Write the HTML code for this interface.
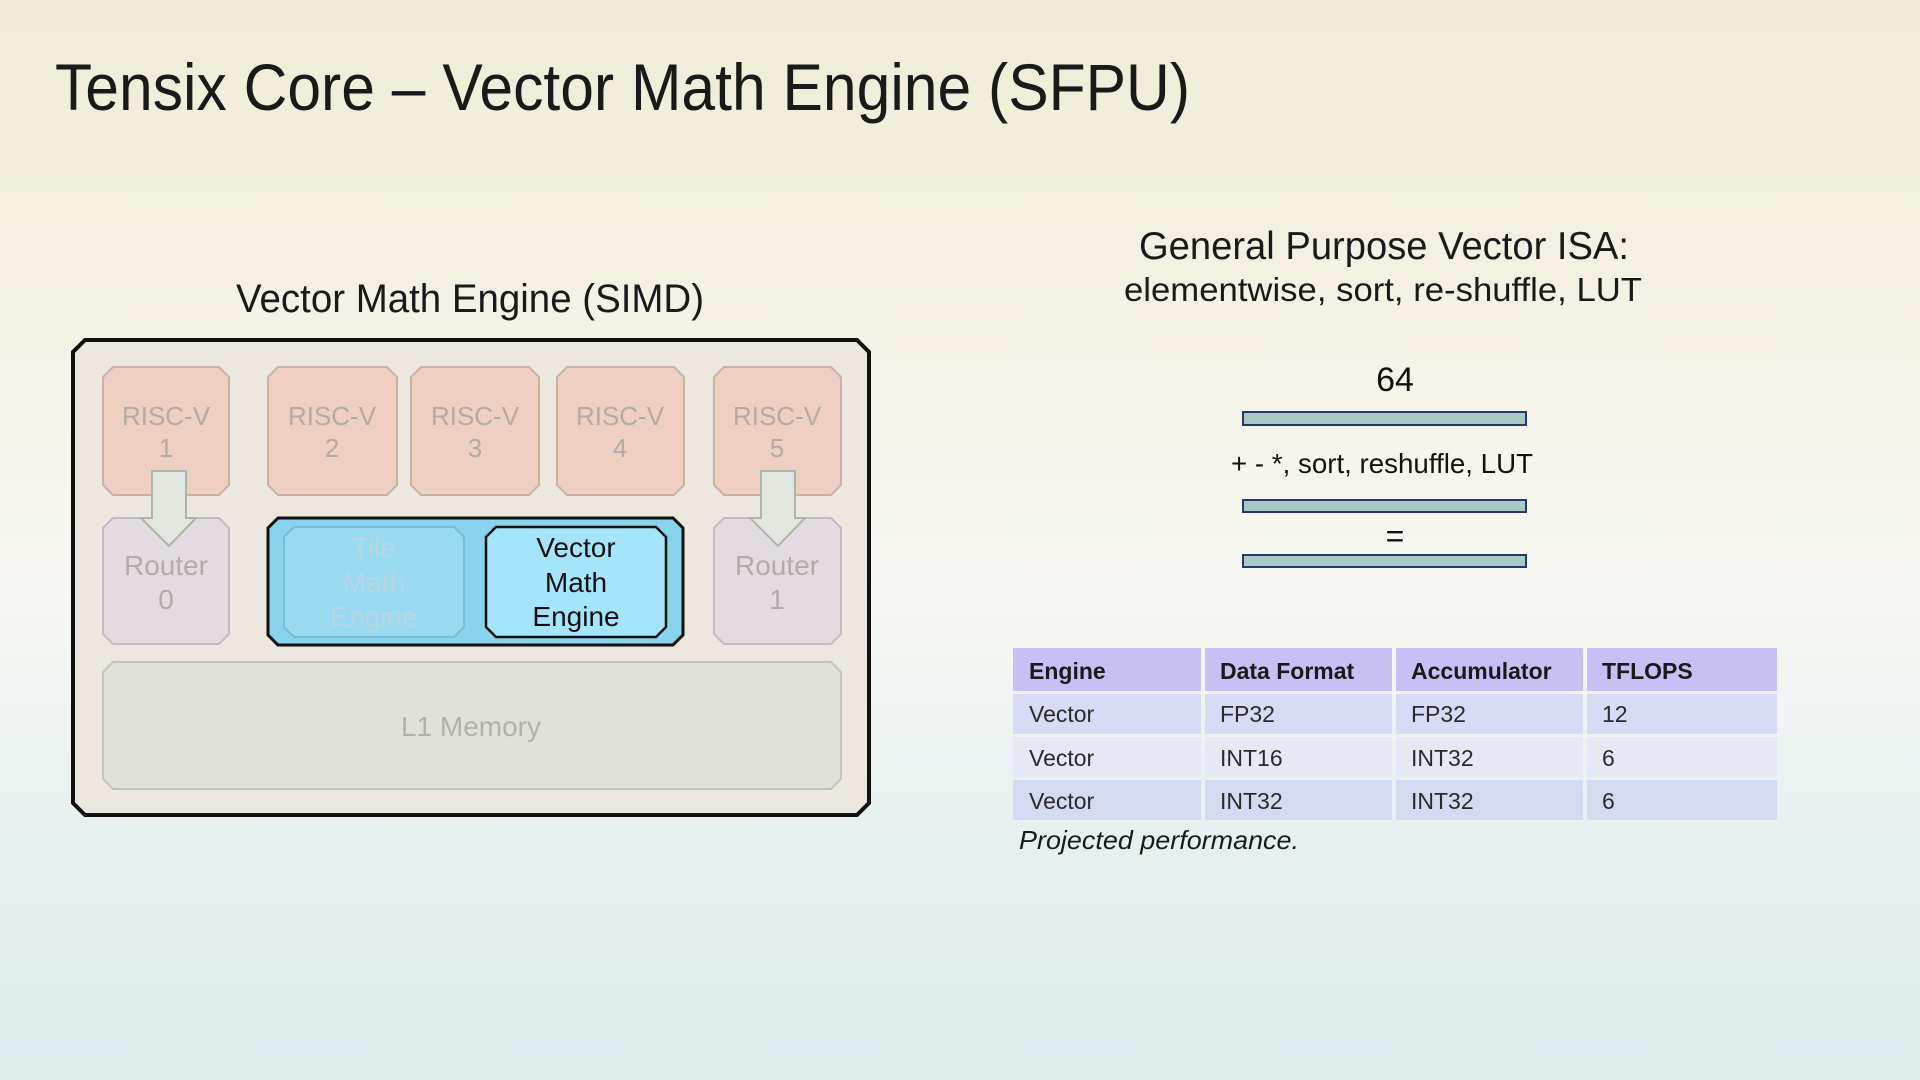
<!DOCTYPE html>
<html><head><meta charset="utf-8"><style>
html,body{margin:0;padding:0;width:1920px;height:1080px;overflow:hidden}
svg{display:block;font-family:"Liberation Sans",Arial,sans-serif}
</style></head><body>
<svg width="1920" height="1080" viewBox="0 0 1920 1080" xmlns="http://www.w3.org/2000/svg">
<defs>
<linearGradient id="bg" x1="0" y1="0" x2="0" y2="1">
<stop offset="0" stop-color="#efecd6"/>
<stop offset="0.35" stop-color="#f6f3e8"/>
<stop offset="0.55" stop-color="#f7f7f3"/>
<stop offset="0.75" stop-color="#e8f1f0"/>
<stop offset="1" stop-color="#dbeceb"/>
</linearGradient>
</defs>
<rect width="1920" height="1080" fill="url(#bg)"/>

<text x="55" y="110" font-size="66" fill="#1a1a1a" textLength="1135" lengthAdjust="spacingAndGlyphs">Tensix Core – Vector Math Engine (SFPU)</text>
<text x="236" y="312" font-size="40" fill="#1a1a1a" textLength="468" lengthAdjust="spacingAndGlyphs">Vector Math Engine (SIMD)</text>

<!-- outer -->
<polygon points="85,340 857,340 869,352 869,803 857,815 85,815 73,803 73,352" fill="#ece8df" stroke="#111" stroke-width="4"/>
<!-- RISC-V -->
<g fill="#efcfc0" stroke="#c8b2a6" stroke-width="2">
<polygon points="113,367 219,367 229,377 229,485 219,495 113,495 103,485 103,377"/>
<polygon points="278,367 387,367 397,377 397,485 387,495 278,495 268,485 268,377"/>
<polygon points="421,367 529,367 539,377 539,485 529,495 421,495 411,485 411,377"/>
<polygon points="567,367 674,367 684,377 684,485 674,495 567,495 557,485 557,377"/>
<polygon points="724,367 831,367 841,377 841,485 831,495 724,495 714,485 714,377"/>
</g>
<g fill="#e2dbe2" stroke="#c2bcc2" stroke-width="2">
<polygon points="113,518 219,518 229,528 229,634 219,644 113,644 103,634 103,528"/>
<polygon points="724,518 831,518 841,528 841,634 831,644 724,644 714,634 714,528"/>
</g>
<polygon points="113,662 831,662 841,672 841,779 831,789 113,789 103,779 103,672" fill="#e0e1da" stroke="#c4c4bc" stroke-width="2"/>
<g font-size="26" fill="#b4aaa3" text-anchor="middle">
<text x="166" y="425">RISC-V</text><text x="166" y="457">1</text>
<text x="332" y="425">RISC-V</text><text x="332" y="457">2</text>
<text x="475" y="425">RISC-V</text><text x="475" y="457">3</text>
<text x="620" y="425">RISC-V</text><text x="620" y="457">4</text>
<text x="777" y="425">RISC-V</text><text x="777" y="457">5</text>
</g>
<!-- arrows -->
<g fill="#e1e6df" stroke="#aeb3ab" stroke-width="2">
<polygon points="152,471 186,471 186,518 196,518 169,546 141,518 152,518"/>
<polygon points="761,471 795,471 795,518 805,518 778,546 750,518 761,518"/>
</g>
<g font-size="28" fill="#b4aaa8" text-anchor="middle">
<text x="166" y="575">Router</text><text x="166" y="609">0</text>
<text x="777" y="575">Router</text><text x="777" y="609">1</text>
<text x="471" y="736" fill="#b2b2aa">L1 Memory</text>
</g>
<!-- blue -->
<polygon points="278,518 673,518 683,528 683,635 673,645 278,645 268,635 268,528" fill="#88d3ee" stroke="#111" stroke-width="3"/>
<polygon points="294,527 454,527 464,537 464,627 454,637 294,637 284,627 284,537" fill="#99daf0" stroke="#78bcd6" stroke-width="2"/>
<polygon points="496,527 656,527 666,537 666,627 656,637 496,637 486,627 486,537" fill="#a5e5fb" stroke="#111" stroke-width="2.5"/>
<g font-size="28" text-anchor="middle">
<text x="374" y="557" fill="#b7d6df">Tile</text><text x="374" y="592" fill="#b7d6df">Math</text><text x="374" y="626" fill="#b7d6df">Engine</text>
<text x="576" y="557" fill="#111">Vector</text><text x="576" y="592" fill="#111">Math</text><text x="576" y="626" fill="#111">Engine</text>
</g>

<!-- right -->
<text x="1384" y="259" font-size="39" fill="#1a1a1a" text-anchor="middle" textLength="490" lengthAdjust="spacingAndGlyphs">General Purpose Vector ISA:</text>
<text x="1383" y="301" font-size="33" fill="#1a1a1a" text-anchor="middle" textLength="518" lengthAdjust="spacingAndGlyphs">elementwise, sort, re-shuffle, LUT</text>
<text x="1395" y="391" font-size="34" fill="#111" text-anchor="middle">64</text>
<text x="1382" y="473" font-size="28" fill="#111" text-anchor="middle" textLength="302" lengthAdjust="spacingAndGlyphs">+ - *, sort, reshuffle, LUT</text>
<text x="1395" y="547" font-size="32" fill="#111" text-anchor="middle">=</text>
<g fill="#a8cac4" stroke="#2b3570" stroke-width="2">
<rect x="1243" y="412" width="283" height="13"/>
<rect x="1243" y="500" width="283" height="12"/>
<rect x="1243" y="555" width="283" height="12"/>
</g>

<!-- table -->
<g>
<rect x="1013" y="648" width="188" height="43" fill="#c8c0f5"/>
<rect x="1205" y="648" width="187" height="43" fill="#c8c0f5"/>
<rect x="1396" y="648" width="187" height="43" fill="#c8c0f5"/>
<rect x="1587" y="648" width="190" height="43" fill="#c8c0f5"/>
<rect x="1013" y="694" width="188" height="40" fill="#d8dbf5"/>
<rect x="1205" y="694" width="187" height="40" fill="#d8dbf5"/>
<rect x="1396" y="694" width="187" height="40" fill="#d8dbf5"/>
<rect x="1587" y="694" width="190" height="40" fill="#d8dbf5"/>
<rect x="1013" y="737" width="188" height="40" fill="#e6e8f6"/>
<rect x="1205" y="737" width="187" height="40" fill="#e6e8f6"/>
<rect x="1396" y="737" width="187" height="40" fill="#e6e8f6"/>
<rect x="1587" y="737" width="190" height="40" fill="#e6e8f6"/>
<rect x="1013" y="780" width="188" height="40" fill="#d5daf3"/>
<rect x="1205" y="780" width="187" height="40" fill="#d5daf3"/>
<rect x="1396" y="780" width="187" height="40" fill="#d5daf3"/>
<rect x="1587" y="780" width="190" height="40" fill="#d5daf3"/>
</g>
<g font-size="23" fill="#1a1a1a" font-weight="bold">
<text x="1029" y="679">Engine</text><text x="1220" y="679">Data Format</text><text x="1411" y="679">Accumulator</text><text x="1602" y="679">TFLOPS</text>
</g>
<g font-size="23" fill="#2a2a2a">
<text x="1029" y="722">Vector</text><text x="1220" y="722">FP32</text><text x="1411" y="722">FP32</text><text x="1602" y="722">12</text>
<text x="1029" y="766">Vector</text><text x="1220" y="766">INT16</text><text x="1411" y="766">INT32</text><text x="1602" y="766">6</text>
<text x="1029" y="809">Vector</text><text x="1220" y="809">INT32</text><text x="1411" y="809">INT32</text><text x="1602" y="809">6</text>
</g>
<text x="1019" y="849" font-size="26" font-style="italic" fill="#1a1a1a" textLength="280" lengthAdjust="spacingAndGlyphs">Projected performance.</text>
</svg>
</body></html>
